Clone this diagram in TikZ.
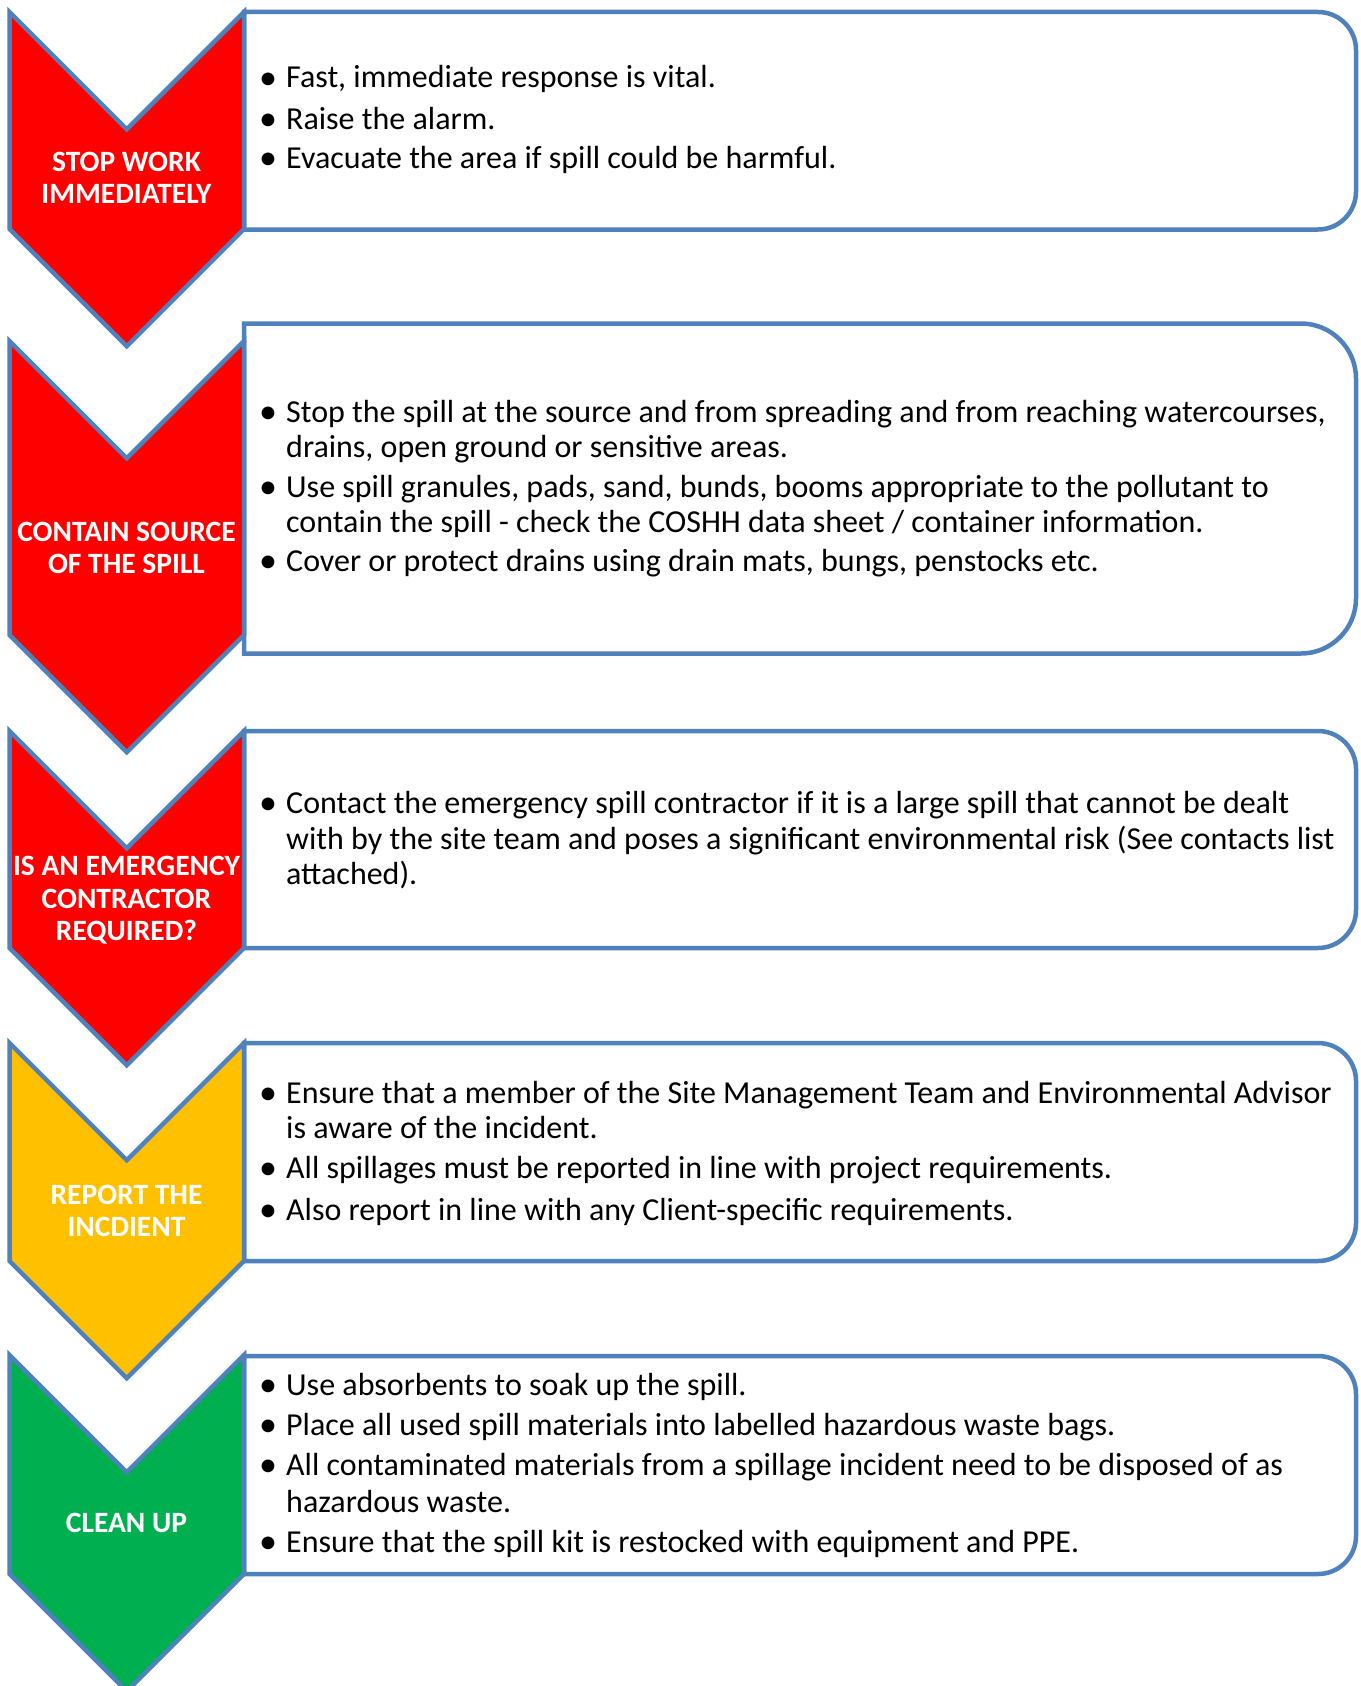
\documentclass[tikz,border=0pt]{standalone}
\usepackage{fontspec}
\setmainfont{Carlito}
\definecolor{bordblue}{HTML}{4F81BD}
\definecolor{chred}{HTML}{FF0000}
\definecolor{chamber}{HTML}{FFC000}
\definecolor{chgreen}{HTML}{00B050}
\tikzset{
  chev/.style={draw=bordblue, line width=4.5pt, line join=miter},
  rbox/.style={draw=bordblue, line width=4.5pt, fill=white},
  txt/.style={anchor=base west, inner sep=0pt, text=black, font=\fontsize{32}{35}\selectfont},
  bul/.style={anchor=base, inner sep=0pt, text=black, yshift=-1.5pt, font=\fontsize{36}{35}\selectfont},
  lab/.style={anchor=base, inner sep=0pt, text=white, font=\bfseries\fontsize{29.5}{32}\selectfont},
}
\begin{document}
\begin{tikzpicture}[x=1pt,y=-1pt]
\useasboundingbox[fill=white] (0,0) rectangle (1360,1686);
\clip (0,0) rectangle (1360,1686);

% ---- boxes (rounded on the right side only)
\draw[rbox] (244,12) -- (1318,12) .. controls (1339,12) and (1356,29) .. (1356,50)
  -- (1356,191.5) .. controls (1356,212.5) and (1339,229.5) .. (1318,229.5) -- (244,229.5) -- cycle;
\draw[rbox] (244,323.5) -- (1301,323.5) .. controls (1331,323.5) and (1356,348) .. (1356,378.5)
  -- (1356,598.5) .. controls (1356,629) and (1331,653.5) .. (1301,653.5) -- (244,653.5) -- cycle;
\draw[rbox] (244,731) -- (1318,731) .. controls (1339,731) and (1356,748) .. (1356,769)
  -- (1356,910) .. controls (1356,931) and (1339,948) .. (1318,948) -- (244,948) -- cycle;
\draw[rbox] (244,1043) -- (1318,1043) .. controls (1339,1043) and (1356,1060) .. (1356,1081)
  -- (1356,1223) .. controls (1356,1244) and (1339,1261) .. (1318,1261) -- (244,1261) -- cycle;
\draw[rbox] (244,1356) -- (1318,1356) .. controls (1339,1356) and (1356,1373) .. (1356,1394)
  -- (1356,1536) .. controls (1356,1557) and (1339,1574) .. (1318,1574) -- (244,1574) -- cycle;

% ---- chevrons
\draw[chev, fill=chred] (9.5,12) -- (126.75,129.25) -- (244,12) -- (244,229) -- (126.75,346.25) -- (9.5,229) -- cycle;
\draw[chev, fill=chred] (9.5,341) -- (126.75,458.25) -- (244,341) -- (244,635) -- (126.75,752.25) -- (9.5,635) -- cycle;
\draw[chev, fill=chred] (9.5,731) -- (126.75,848.25) -- (244,731) -- (244,948) -- (126.75,1065.25) -- (9.5,948) -- cycle;
\draw[chev, fill=chamber] (9.5,1043) -- (126.75,1160.25) -- (244,1043) -- (244,1261) -- (126.75,1378.25) -- (9.5,1261) -- cycle;
\draw[chev, fill=chgreen] (9.5,1355) -- (126.75,1472.25) -- (244,1355) -- (244,1574) -- (126.75,1691.25) -- (9.5,1574) -- cycle;

% ---- chevron labels
\node[lab] (l1a) at (126.5,171) {STOP WORK};
\node[lab] (l1b) at (126.5,203) {IMMEDIATELY};
\node[lab] (l2a) at (126.5,541) {CONTAIN SOURCE};
\node[lab] (l2b) at (126.5,573) {OF THE SPILL};
\node[lab] (l3a) at (126.5,875) {IS AN EMERGENCY};
\node[lab] (l3b) at (126.5,908) {CONTRACTOR};
\node[lab] (l3c) at (126.5,940) {REQUIRED?};
\node[lab] (l4a) at (126.5,1204) {REPORT THE};
\node[lab] (l4b) at (126.5,1236) {INCDIENT};
\node[lab] (l5a) at (126.5,1532) {CLEAN UP};

% ---- box 1
\node[bul] (u1a) at (268,88) {•};
\node[txt] (t1a) at (286,88) {Fast, immediate response is vital.};
\node[bul] (u1b) at (268,129) {•};
\node[txt] (t1b) at (286,129) {Raise the alarm.};
\node[bul] (u1c) at (268,168) {•};
\node[txt] (t1c) at (286,168) {Evacuate the area if spill could be harmful.};

% ---- box 2
\node[bul] (u2a) at (268,422) {•};
\node[txt] (t2a) at (286,422) {Stop the spill at the source and from spreading and from reaching watercourses,};
\node[txt] (t2b) at (286,457) {drains, open ground or sensitive areas.};
\node[bul] (u2c) at (268,497) {•};
\node[txt] (t2c) at (286,497) {Use spill granules, pads, sand, bunds, booms appropriate to the pollutant to};
\node[txt] (t2d) at (286,532) {contain the spill - check the COSHH data sheet / container information.};
\node[bul] (u2e) at (268,571) {•};
\node[txt] (t2e) at (286,571) {Cover or protect drains using drain mats, bungs, penstocks etc.};

% ---- box 3
\node[bul] (u3a) at (268,813) {•};
\node[txt] (t3a) at (286,813) {Contact the emergency spill contractor if it is a large spill that cannot be dealt};
\node[txt] (t3b) at (286,849) {with by the site team and poses a significant environmental risk (See contacts list};
\node[txt] (t3c) at (286,884) {attached).};

% ---- box 4
\node[bul] (u4a) at (268,1103) {•};
\node[txt] (t4a) at (286,1103) {Ensure that a member of the Site Management Team and Environmental Advisor};
\node[txt] (t4b) at (286,1138) {is aware of the incident.};
\node[bul] (u4c) at (268,1178) {•};
\node[txt] (t4c) at (286,1178) {All spillages must be reported in line with project requirements.};
\node[bul] (u4d) at (268,1220) {•};
\node[txt] (t4d) at (286,1220) {Also report in line with any Client-specific requirements.};

% ---- box 5
\node[bul] (u5a) at (268,1395) {•};
\node[txt] (t5a) at (286,1395) {Use absorbents to soak up the spill.};
\node[bul] (u5b) at (268,1435) {•};
\node[txt] (t5b) at (286,1435) {Place all used spill materials into labelled hazardous waste bags.};
\node[bul] (u5c) at (268,1475) {•};
\node[txt] (t5c) at (286,1475) {All contaminated materials from a spillage incident need to be disposed of as};
\node[txt] (t5d) at (286,1512) {hazardous waste.};
\node[bul] (u5e) at (268,1552) {•};
\node[txt] (t5e) at (286,1552) {Ensure that the spill kit is restocked with equipment and PPE.};
\end{tikzpicture}
\end{document}
